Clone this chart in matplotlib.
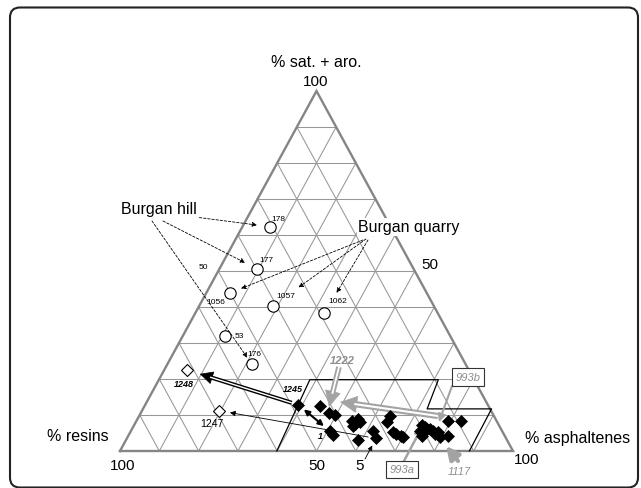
import numpy as np
import matplotlib.pyplot as plt
from matplotlib.patches import FancyBboxPatch

plt.rcParams['font.family'] = ['Liberation Sans', 'DejaVu Sans']

# ternary data: % sat.+aro. (top corner) and % asphaltenes (right corner); resins = rest
hill_ids = ['178', '177', '176']
hill_sat = [62.3, 50.6, 24.2]
hill_asp = [7.0, 9.6, 21.4]

quarry_ids = ['1056', '1057', '1062']
quarry_sat = [43.9, 40.4, 38.2]
quarry_asp = [6.0, 18.8, 32.9]

other_ids = ['53']
other_sat = [32.0]
other_asp = [10.7]

open_ids = ['1248', '1247']
open_sat = [22.5, 11.2]
open_asp = [5.9, 19.6]

# black diamonds (index 0 = 1245, 4 = "1", 12 = "5")
solid_sat = [12.8, 12.4, 10.5, 10.1, 5.5, 4.5, 8.4, 7.5, 8.9, 8.1, 6.9, 5.6, 3.5, 3.1,
             9.8, 8.0, 5.2, 4.7, 4.2, 3.8, 7.2, 5.6, 6.6, 6.1, 6.1, 5.6, 4.3, 4.7,
             5.2, 3.8, 8.4, 8.4, 4.3]
solid_asp = [39.0, 44.7, 48.0, 49.7, 50.7, 52.0, 54.8, 56.0, 56.2, 57.0, 55.9, 61.6, 63.4, 59.0,
             63.8, 64.0, 66.9, 68.0, 69.3, 70.0, 73.2, 73.5, 74.3, 75.0, 75.8, 76.9, 74.6, 77.8,
             78.4, 79.5, 79.3, 82.5, 81.4]

# outline of the field of the bitumen samples
zone_sat = [0, 19.8, 19.8, 11.7, 11.7, 0]
zone_asp = [39.9, 38.4, 71.1, 72.3, 88.7, 88.9]

H = 0.916      # triangle is drawn a little taller than equilateral
PX = 3.93      # pixels per data unit


def tern(sat, asp):
    sat = np.asarray(sat, float)
    asp = np.asarray(asp, float)
    return asp + sat / 2, sat * H


def pix(x, y):
    # picture pixel position -> data position (layout of labels only)
    return np.array([(x - 120) / PX, (452 - y) / PX])


def pt(sat, asp):
    return np.array(tern(sat, asp))


def toward(p, q, d_px):
    p, q = np.asarray(p, float), np.asarray(q, float)
    u = (q - p) / np.hypot(*(q - p))
    return p + u * d_px / PX


fig = plt.figure(figsize=(6.41, 4.89), dpi=100)
ax = fig.add_axes([0, 0, 1, 1])
ax.set_xlim(-120 / PX, (641 - 120) / PX)
ax.set_ylim(-(489 - 452) / PX, 452 / PX)
ax.axis('off')

fig.patches.append(FancyBboxPatch((0.10, 0.005), 6.28, 4.80, boxstyle='round,pad=0,rounding_size=0.1',
                                  transform=fig.dpi_scale_trans, fc='none', ec='#222222', lw=1.5))

# grid
grid_c = '#979797'
for k in range(10, 100, 10):
    for s0, a0, s1, a1 in [(k, 0, k, 100 - k), (0, k, 100 - k, k), (0, 100 - k, 100 - k, 0)]:
        x, y = tern([s0, s1], [a0, a1])
        ax.plot(x, y, color=grid_c, lw=0.75, zorder=1)
x, y = tern([0, 0, 100, 0], [0, 100, 0, 0])
ax.plot(x, y, color='#858585', lw=1.7, zorder=2, solid_joinstyle='miter')

# sample field outline
x, y = tern(zone_sat, zone_asp)
ax.plot(x, y, color='black', lw=0.9, zorder=3)

# markers
for sats, asps in [(hill_sat, hill_asp), (quarry_sat, quarry_asp), (other_sat, other_asp)]:
    x, y = tern(sats, asps)
    ax.plot(x, y, 'o', ms=8.2, mfc='white', mec='black', mew=0.8, ls='none', zorder=5)
x, y = tern(open_sat, open_asp)
ax.plot(x, y, 'D', ms=6.5, mfc='white', mec='black', mew=0.8, ls='none', zorder=5)
x, y = tern(solid_sat, solid_asp)
ax.plot(x, y, 'D', ms=6.3, mfc='black', mec='black', mew=0.5, ls='none', zorder=5)

# axis texts
fs = 11.5
ax.text(*pix(316, 63), '% sat. + aro.', ha='center', va='center', fontsize=fs)
ax.text(*pix(316, 82), '100', ha='center', va='center', fontsize=11)
ax.text(*pix(78, 437), '% resins', ha='center', va='center', fontsize=fs)
ax.text(*pix(123, 466), '100', ha='center', va='center', fontsize=11)
ax.text(*pix(578, 439), '% asphaltenes', ha='center', va='center', fontsize=fs)
ax.text(*pix(527, 460), '100', ha='center', va='center', fontsize=11)
ax.text(*pix(317, 466), '50', ha='center', va='center', fontsize=11)
ax.text(*pix(430, 265), '50', ha='center', va='center', fontsize=11)
ax.text(*pix(203, 268), '50', ha='center', va='center', fontsize=6)
ax.text(*pix(360, 466), '5', ha='center', va='center', fontsize=11)

ax.text(*pix(159, 210), 'Burgan hill', ha='center', va='center', fontsize=fs, zorder=6,
        bbox=dict(fc='white', ec='none', pad=1))
ax.text(*pix(409, 228), 'Burgan quarry', ha='center', va='center', fontsize=fs, zorder=6,
        bbox=dict(fc='white', ec='none', pad=1))

# small sample numbers
small_pos = {'178': (278, 220), '177': (266, 261), '176': (254, 355), '1056': (216, 303),
             '1057': (286, 297), '1062': (338, 302), '53': (239, 337)}
for name, (px_, py_) in small_pos.items():
    ax.text(*pix(px_, py_), name, ha='center', va='center', fontsize=6)
ax.text(*pix(184, 385), '1248', ha='center', va='center', fontsize=6.5, style='italic', weight='bold')
ax.text(*pix(212, 424), '1247', ha='center', va='center', fontsize=7.5)
ax.text(*pix(293, 390), '1245', ha='center', va='center', fontsize=6.5, style='italic', weight='bold')
ax.text(*pix(320, 437), '1', ha='center', va='center', fontsize=6.5, style='italic', weight='bold')

gray_t = '#8f8f8f'
ax.text(*pix(342, 361), '1222', ha='center', va='center', fontsize=8, style='italic',
        weight='bold', color=gray_t)
ax.text(*pix(459, 472), '1117', ha='center', va='center', fontsize=8, style='italic', color=gray_t)
for name, (px_, py_) in {'993b': (468, 378), '993a': (402, 470.5)}.items():
    ax.text(*pix(px_, py_), name, ha='center', va='center', fontsize=8, style='italic',
            color=gray_t, zorder=6,
            bbox=dict(boxstyle='square,pad=0.35', fc='white', ec='#333333', lw=0.8))


def arrow(p0, p1, color='black', lw=0.6, ms=7, style='-|>', ls='-', z=4):
    ax.annotate('', xy=p1, xytext=p0, zorder=z,
                arrowprops=dict(arrowstyle=style, color=color, lw=lw, ls=ls,
                                mutation_scale=ms, shrinkA=0, shrinkB=0))


def hollow_arrow(p0, p1, color, w_out, w_in, head_px, z=4):
    p0, p1 = np.asarray(p0, float), np.asarray(p1, float)
    u = (p1 - p0) / np.hypot(*(p1 - p0))
    hl = head_px / PX
    base = p1 - u * hl * 0.9
    arrow(p1 - u * hl * 1.5, p1, color=color, lw=0.5, ms=head_px / (0.4 * 100 / 72), z=z)
    ax.plot([p0[0], base[0]], [p0[1], base[1]], color=color, lw=w_out, solid_capstyle='butt', zorder=z)
    ax.plot([p0[0], base[0]], [p0[1], base[1]], color='white', lw=w_in, solid_capstyle='butt', zorder=z)


# dashed leaders
dash = (0, (3, 2))
hill_start = [pix(187, 217), pix(163, 222), pix(152, 222)]
hill_gap = [13, 13.5, 7.5]
for i in range(3):
    tgt = pt(hill_sat[i], hill_asp[i])
    arrow(hill_start[i], toward(tgt, hill_start[i], hill_gap[i]), lw=0.6, ms=7, ls=dash)
quarry_start = [pix(363, 241), pix(366, 240), pix(368, 241)]
quarry_gap = [12, 31, 24]
for i in range(3):
    tgt = pt(quarry_sat[i], quarry_asp[i])
    arrow(quarry_start[i], toward(tgt, quarry_start[i], quarry_gap[i]), lw=0.6, ms=7, ls=dash)

# black arrows
p1245 = pt(solid_sat[0], solid_asp[0])
p1248 = pt(open_sat[0], open_asp[0])
p1247 = pt(open_sat[1], open_asp[1])
p_one = pt(solid_sat[4], solid_asp[4])
p_five = pt(solid_sat[12], solid_asp[12])
hollow_arrow(toward(p1245, p1248, 7), toward(p1248, p1245, 13), 'black', 3.0, 1.0, 12)
arrow(toward(p_five, p1247, 8), toward(p1247, p_five, 11), lw=0.6, ms=8)
arrow(toward(p1245, p_one, 7), toward(p_one, p1245, 8), lw=1.5, ms=8, style='<|-|>')
arrow(pix(365, 460), toward(p_five, pix(365, 460), 8), lw=0.6, ms=7)

# gray arrows
gray_a = '#a3a3a3'
hollow_arrow(pix(339, 368), pix(329, 408), gray_a, 4.0, 1.3, 15)
hollow_arrow(pix(438, 417), pix(340, 403), gray_a, 4.5, 1.5, 16)
arrow(pix(452, 387), pix(439, 423), color=gray_a, lw=1.5, ms=11)
arrow(pix(404, 462), pix(422, 428), color=gray_a, lw=1.8, ms=11)
arrow(pix(458, 462), pix(446, 447), color=gray_a, lw=3.0, ms=19)

fig.savefig('out.png', dpi=100)
